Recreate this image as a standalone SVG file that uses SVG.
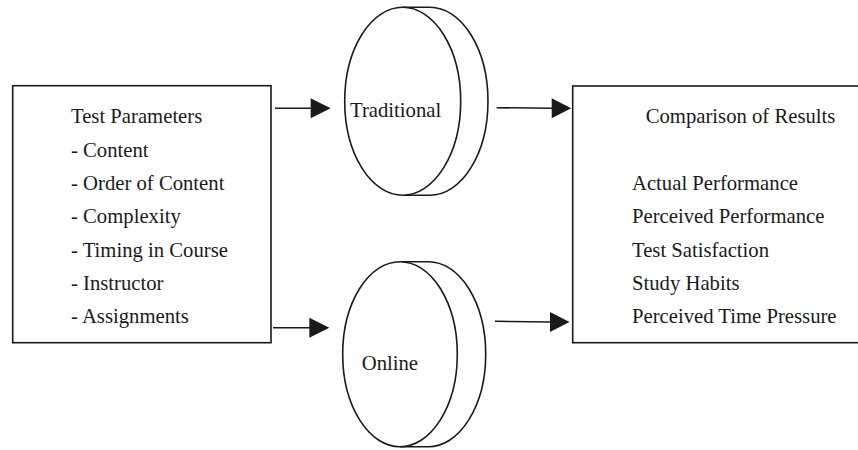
<svg xmlns="http://www.w3.org/2000/svg" width="858" height="450" viewBox="0 0 858 450">
  <style>
    .box { fill: #fff; stroke: #1a1a1a; stroke-width: 1.6; }
    .disk { fill: #fff; stroke: #1a1a1a; stroke-width: 1.6; }
    .lbl { font-family: "Liberation Serif", "Times New Roman", serif; font-size: 20.7px; fill: #1a1a1a; }
    .conn { stroke: #1a1a1a; stroke-width: 1.6; fill: none; }
    .head { fill: #1a1a1a; stroke: none; }
  </style>
  <rect width="858" height="450" fill="#fff"/>

  <g id="test-parameters">
    <rect class="box" x="12.7" y="85.7" width="258.3" height="257"/>
    <text class="lbl" x="71" y="123.3">Test Parameters</text>
    <text class="lbl" x="71" y="156.7">- Content</text>
    <text class="lbl" x="71" y="190">- Order of Content</text>
    <text class="lbl" x="71" y="223.3">- Complexity</text>
    <text class="lbl" x="71" y="256.6">- Timing in Course</text>
    <text class="lbl" x="71" y="290">- Instructor</text>
    <text class="lbl" x="71" y="323.3">- Assignments</text>
  </g>

  <g id="traditional">
    <!-- back face: right half of the rear ellipse joined to the front rim -->
    <path class="disk" d="M402.7 7.2 L430 7.2 A58 94 0 0 1 430 195.2 L402.7 195.2"/>
    <ellipse class="disk" cx="402.7" cy="101.2" rx="58" ry="94"/>
    <text class="lbl" x="350" y="117">Traditional</text>
  </g>

  <g id="online">
    <path class="disk" d="M400 261.7 L428.4 261.7 A57.3 92.5 0 0 1 428.4 446.7 L400 446.7"/>
    <ellipse class="disk" cx="400" cy="354.2" rx="57.3" ry="92.5"/>
    <text class="lbl" x="361.7" y="369.5">Online</text>
  </g>

  <g id="comparison-of-results">
    <rect class="box" x="572.7" y="86" width="290" height="256.7"/>
    <text class="lbl" x="645.7" y="123.3">Comparison of Results</text>
    <text class="lbl" x="632" y="190">Actual Performance</text>
    <text class="lbl" x="632" y="223.3">Perceived Performance</text>
    <text class="lbl" x="632" y="256.6">Test Satisfaction</text>
    <text class="lbl" x="632" y="290">Study Habits</text>
    <text class="lbl" x="632" y="323.3">Perceived Time Pressure</text>
  </g>

  <g id="connectors">
    <line class="conn" x1="275" y1="108.3" x2="312" y2="108.3"/>
    <polygon class="head" points="310.7,98.3 330.7,108.3 310.7,118.3"/>
    <line class="conn" x1="273" y1="327.7" x2="311" y2="327.7"/>
    <polygon class="head" points="309.3,317.7 329.3,327.7 309.3,337.7"/>
    <line class="conn" x1="496.7" y1="107.7" x2="553" y2="108.3"/>
    <polygon class="head" points="551.7,98.3 571.2,108.3 551.7,118.3"/>
    <line class="conn" x1="495" y1="321.3" x2="551" y2="322"/>
    <polygon class="head" points="550,312 569.5,322 550,332"/>
  </g>
</svg>
